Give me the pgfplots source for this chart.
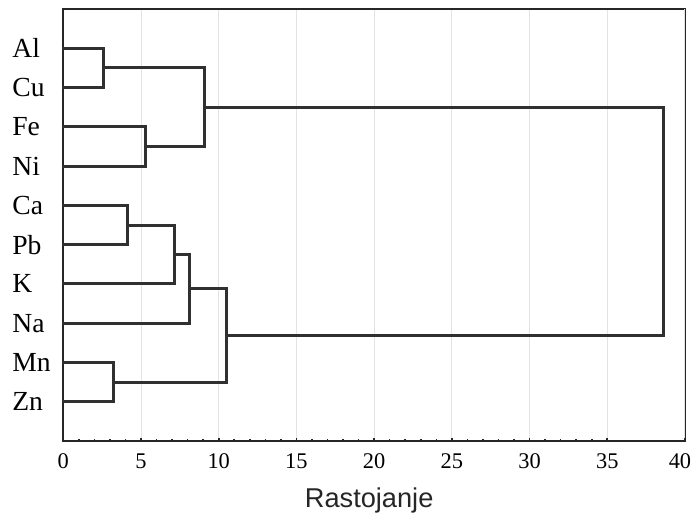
\documentclass[border=0pt]{standalone}
\usepackage{fontspec}
\setmainfont{Liberation Serif}
\newfontfamily\sansf{Liberation Sans}
\usepackage{pgfplots}
\pgfplotsset{compat=1.18}
\definecolor{dend}{HTML}{303030}
\definecolor{axc}{HTML}{262626}
\definecolor{gridc}{HTML}{E3E3E3}
\tikzset{dl/.style={draw=dend, line width=1.5pt, line join=miter, line cap=rect, mark=none}}
\begin{document}
\begin{tikzpicture}
\begin{axis}[
  scale only axis,
  width=310.85pt, height=216pt,
  xmin=0, xmax=40, ymin=0, ymax=11,
  y dir=reverse,
  axis line style={draw=axc, line width=1pt},
  xtick={0,5,...,35},
  extra x ticks={40},
  extra x tick style={xticklabel style={xshift=-2.5pt}},
  minor x tick num=4,
  xtick pos=bottom,
  tick align=inside,
  major tick length=1.6pt,
  minor tick length=1.2pt,
  every tick/.style={axc, line width=0.8pt},
  xmajorgrids,
  major grid style={gridc, line width=0.5pt},
  ytick={1,...,10},
  yticklabels={Al,Cu,Fe,Ni,Ca,Pb,K,Na,Mn,Zn},
  ytick style={draw=none},
  yticklabel style={anchor=west, xshift=-29pt, font=\fontsize{13.8}{15}\selectfont},
  xticklabel style={font=\fontsize{11.2}{13}\selectfont, yshift=-2.9pt},
  /pgf/number format/assume math mode=true,
  xlabel={Rastojanje},
  xlabel style={at={(rel axis cs:0.492,0)}, anchor=base, yshift=-33pt, font=\sansf\fontsize{13.6}{15}\selectfont, text=axc},
  clip=false,
]
\addplot[dl] coordinates {(0,1) (2.57,1) (2.57,2) (0,2)};
\addplot[dl] coordinates {(0,3) (5.30,3) (5.30,4) (0,4)};
\addplot[dl] coordinates {(2.57,1.5) (9.07,1.5) (9.07,3.5) (5.30,3.5)};
\addplot[dl] coordinates {(0,5) (4.10,5) (4.10,6) (0,6)};
\addplot[dl] coordinates {(4.10,5.5) (7.14,5.5) (7.14,7) (0,7)};
\addplot[dl] coordinates {(7.14,6.25) (8.15,6.25) (8.15,8) (0,8)};
\addplot[dl] coordinates {(0,9) (3.26,9) (3.26,10) (0,10)};
\addplot[dl] coordinates {(8.15,7.125) (10.49,7.125) (10.49,9.5) (3.26,9.5)};
\addplot[dl] coordinates {(9.07,2.5) (38.6,2.5) (38.6,8.3125) (10.49,8.3125)};
\coordinate (sw) at (rel axis cs:0,0);
\coordinate (ne) at (rel axis cs:1,1);
\end{axis}
\pgfresetboundingbox
\path (sw) ++(-31.65pt,-36.5pt) coordinate (bbA);
\path (ne) ++(3pt,4.5pt) coordinate (bbB);
\path[use as bounding box] (bbA) rectangle (bbB);
\end{tikzpicture}
\end{document}
